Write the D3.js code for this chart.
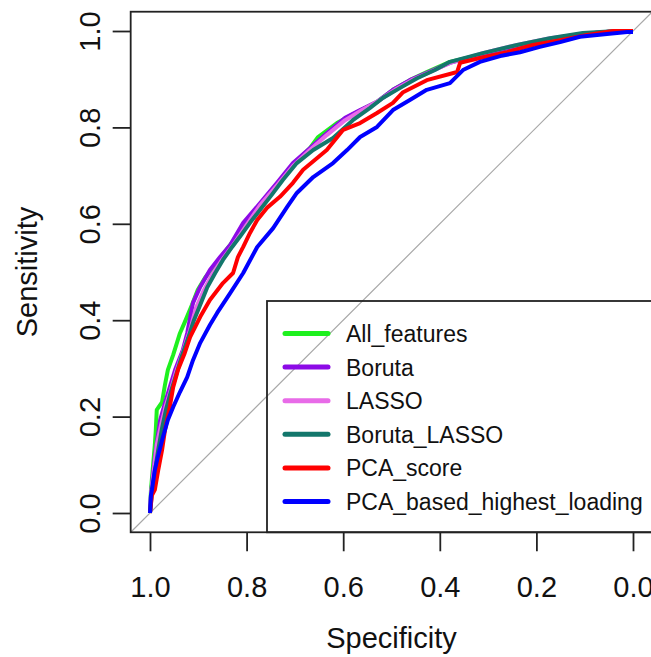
<!DOCTYPE html>
<html>
<head>
<meta charset="utf-8">
<script src="https://cdn.jsdelivr.net/npm/d3@7"></script>
<style>
  body { margin: 0; background: #fff; }
  text { font-family: "Liberation Sans", Arial, sans-serif; fill: #111; }
</style>
</head>
<body>
<script>

// ROC curves: [specificity, sensitivity]
var allFeatures = [[1,0],[0.998,0.048],[0.994,0.095],[0.990,0.141],[0.988,0.172],[0.986,0.214],
    [0.975,0.230],[0.969,0.266],[0.963,0.297],[0.952,0.328],[0.938,0.373],[0.928,0.396],
    [0.913,0.432],[0.901,0.463],[0.886,0.488],[0.865,0.515],[0.839,0.550],[0.807,0.591],
    [0.776,0.633],[0.741,0.674],[0.704,0.722],[0.669,0.757],[0.652,0.780],[0.613,0.809],
    [0.571,0.832],[0.530,0.853],[0.497,0.878],[0.462,0.898],[0.427,0.915],[0.379,0.936],
    [0.311,0.952],[0.240,0.969],[0.172,0.983],[0.104,0.994],[0.033,1],[0,1]];

var boruta = [[1,0],[0.998,0.037],[0.994,0.079],[0.988,0.131],[0.979,0.193],[0.969,0.228],
    [0.959,0.261],[0.948,0.297],[0.932,0.338],[0.923,0.373],[0.911,0.436],[0.896,0.469],
    [0.876,0.504],[0.855,0.531],[0.834,0.556],[0.807,0.602],[0.772,0.643],[0.737,0.685],
    [0.704,0.726],[0.669,0.757],[0.634,0.788],[0.596,0.820],[0.565,0.836],[0.530,0.853],
    [0.497,0.878],[0.462,0.898],[0.427,0.913],[0.379,0.934],[0.311,0.952],[0.240,0.969],
    [0.172,0.983],[0.104,0.994],[0.033,1],[0,1]];

var lasso = [[1,0],[0.998,0.037],[0.992,0.089],[0.986,0.141],[0.977,0.183],[0.967,0.224],
    [0.957,0.255],[0.946,0.293],[0.932,0.334],[0.917,0.380],[0.905,0.425],[0.890,0.459],
    [0.872,0.494],[0.851,0.525],[0.828,0.556],[0.803,0.593],[0.772,0.639],[0.737,0.680],
    [0.704,0.720],[0.669,0.753],[0.634,0.784],[0.596,0.815],[0.561,0.836],[0.524,0.857],
    [0.493,0.878],[0.458,0.898],[0.420,0.915],[0.379,0.934],[0.311,0.954],[0.240,0.971],
    [0.172,0.985],[0.104,0.994],[0.033,1],[0,1]];

var borutaLasso = [[1,0],[0.996,0.044],[0.990,0.085],[0.983,0.131],[0.975,0.176],[0.967,0.214],
    [0.957,0.251],[0.946,0.286],[0.934,0.326],[0.921,0.363],[0.909,0.400],[0.896,0.432],
    [0.882,0.467],[0.865,0.498],[0.849,0.525],[0.830,0.552],[0.814,0.573],[0.793,0.602],
    [0.772,0.629],[0.748,0.660],[0.725,0.691],[0.696,0.726],[0.662,0.753],[0.621,0.778],
    [0.580,0.815],[0.545,0.840],[0.518,0.861],[0.482,0.882],[0.447,0.902],[0.410,0.919],
    [0.379,0.936],[0.311,0.954],[0.240,0.971],[0.172,0.985],[0.104,0.996],[0.033,1],[0,1]];

var pcaScore = [[1,0],[0.996,0.037],[0.990,0.048],[0.983,0.089],[0.975,0.131],[0.969,0.172],
    [0.959,0.220],[0.952,0.261],[0.942,0.297],[0.928,0.332],[0.917,0.365],[0.896,0.407],
    [0.876,0.442],[0.849,0.477],[0.828,0.498],[0.818,0.531],[0.807,0.552],[0.793,0.581],
    [0.778,0.608],[0.758,0.633],[0.731,0.656],[0.704,0.685],[0.683,0.712],[0.634,0.753],
    [0.600,0.795],[0.565,0.809],[0.530,0.830],[0.497,0.851],[0.476,0.873],[0.427,0.898],
    [0.364,0.915],[0.358,0.934],[0.317,0.944],[0.261,0.956],[0.207,0.971],[0.151,0.981],
    [0.095,0.992],[0.041,1],[0,1]];

var pcaLoading = [[1,0],[0.998,0.037],[0.996,0.048],[0.990,0.089],[0.983,0.120],[0.973,0.158],
    [0.963,0.193],[0.952,0.220],[0.938,0.251],[0.923,0.282],[0.911,0.317],[0.896,0.353],
    [0.876,0.390],[0.861,0.415],[0.834,0.456],[0.807,0.498],[0.778,0.552],[0.745,0.591],
    [0.716,0.635],[0.696,0.664],[0.662,0.697],[0.621,0.726],[0.592,0.753],[0.565,0.780],
    [0.530,0.801],[0.497,0.836],[0.462,0.857],[0.427,0.878],[0.379,0.892],[0.352,0.919],
    [0.317,0.936],[0.275,0.948],[0.234,0.956],[0.193,0.967],[0.151,0.977],[0.110,0.988],
    [0.054,0.994],[0.012,0.998],[0,0.998]];

var seriesNames = ["All_features", "Boruta", "LASSO", "Boruta_LASSO", "PCA_score", "PCA_based_highest_loading"];
var seriesColors = ["#1ef01e", "#8c0ae6", "#e86be8", "#13776c", "#ff0000", "#0000ff"];
var seriesData = [allFeatures, boruta, lasso, borutaLasso, pcaScore, pcaLoading];
var tickValues = [1.0, 0.8, 0.6, 0.4, 0.2, 0.0];

var width = 651, height = 657;

var xScale = d3.scaleLinear().domain([1, 0]).range([150, 633]);
var yScale = d3.scaleLinear().domain([0, 1]).range([513, 31]);

var svg = d3.select("body")
            .append("svg")
            .attr("width", width)
            .attr("height", height);

svg.append("rect")
    .attr("width", width)
    .attr("height", height)
    .attr("fill", "#fff");

// chance diagonal over the whole plot region
svg.append("line")
    .attr("x1", xScale(1.04)).attr("y1", yScale(-0.04))
    .attr("x2", xScale(-0.04)).attr("y2", yScale(1.04))
    .attr("stroke", "#a8a8a8")
    .attr("stroke-width", 1.2);

var line = d3.line()
             .x(function(d) { return xScale(d[0]); })
             .y(function(d) { return yScale(d[1]); });

svg.selectAll("path.roc")
    .data(seriesData)
    .enter()
    .append("path")
    .attr("class", "roc")
    .attr("d", line)
    .attr("fill", "none")
    .attr("stroke", function(d, i) { return seriesColors[i]; })
    .attr("stroke-width", 4)
    .attr("stroke-linejoin", "round");

// plot box
svg.append("rect")
    .attr("x", xScale(1.04))
    .attr("y", yScale(1.04))
    .attr("width", xScale(-0.04) - xScale(1.04))
    .attr("height", yScale(-0.04) - yScale(1.04))
    .attr("fill", "none")
    .attr("stroke", "#222")
    .attr("stroke-width", 1.8);

// x axis
var xAxis = d3.axisBottom(xScale)
              .tickValues(tickValues)
              .tickSize(19)
              .tickFormat(d3.format(".1f"));

var gx = svg.append("g")
    .attr("transform", "translate(0," + yScale(-0.04) + ")")
    .call(xAxis);
gx.select(".domain").remove();
gx.selectAll("line").attr("stroke", "#222").attr("stroke-width", 1.8);
gx.selectAll("text")
    .attr("y", 65)
    .attr("dy", 0)
    .attr("fill", "#111")
    .style("font-size", "29px")
    .style("font-family", "Liberation Sans, Arial, sans-serif");

// y axis
var yAxis = d3.axisLeft(yScale)
              .tickValues(tickValues)
              .tickSize(18)
              .tickFormat(d3.format(".1f"));

var gy = svg.append("g")
    .attr("transform", "translate(" + xScale(1.04) + ",0)")
    .call(yAxis);
gy.select(".domain").remove();
gy.selectAll("line").attr("stroke", "#222").attr("stroke-width", 1.8);
gy.selectAll("text")
    .attr("x", 0)
    .attr("y", 0)
    .attr("dy", 0)
    .attr("transform", "translate(-31,0) rotate(-90)")
    .attr("text-anchor", "middle")
    .attr("fill", "#111")
    .style("font-size", "29px")
    .style("font-family", "Liberation Sans, Arial, sans-serif");

// axis labels
svg.append("text")
    .attr("x", (xScale(1.04) + xScale(-0.04)) / 2)
    .attr("y", 648)
    .attr("text-anchor", "middle")
    .style("font-size", "29px")
    .text("Specificity");

svg.append("text")
    .attr("transform", "translate(37," + (yScale(1.04) + yScale(-0.04)) / 2 + ") rotate(-90)")
    .attr("text-anchor", "middle")
    .style("font-size", "29px")
    .text("Sensitivity");

// legend
svg.append("rect")
    .attr("x", 267)
    .attr("y", 301)
    .attr("width", 420)
    .attr("height", yScale(-0.04) - 301)
    .attr("fill", "none")
    .attr("stroke", "#222")
    .attr("stroke-width", 1.8);

var legend = svg.selectAll(".legend")
    .data(seriesNames)
    .enter()
    .append("g")
    .attr("class", "legend")
    .attr("transform", function(d, i) { return "translate(0," + (333.5 + i * 33.6) + ")"; });

legend.append("line")
    .attr("x1", 285).attr("x2", 328)
    .attr("stroke", function(d, i) { return seriesColors[i]; })
    .attr("stroke-width", 5)
    .attr("stroke-linecap", "round");

legend.append("text")
    .attr("x", 346)
    .attr("y", 8.5)
    .style("font-size", "23px")
    .text(function(d) { return d; });

</script>
</body>
</html>
